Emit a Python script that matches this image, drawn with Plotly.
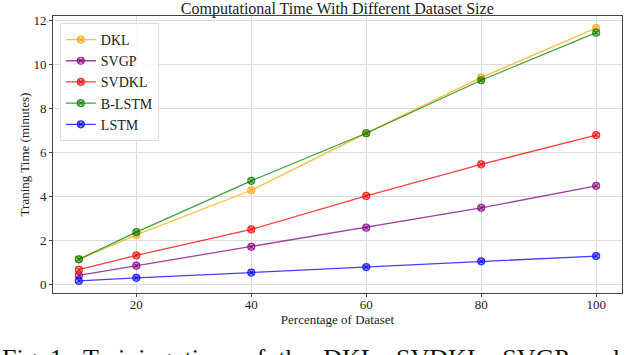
import plotly.graph_objects as go

pct = [10, 20, 40, 60, 80, 100]
dkl = [1.16, 2.27, 4.30, 6.90, 9.42, 11.67]
svgp = [0.43, 0.87, 1.73, 2.60, 3.50, 4.50]
svdkl = [0.69, 1.34, 2.52, 4.04, 5.48, 6.81]
blstm = [1.16, 2.40, 4.73, 6.89, 9.30, 11.46]
lstm = [0.18, 0.32, 0.56, 0.81, 1.07, 1.31]

names = ["DKL", "SVGP", "SVDKL", "B-LSTM", "LSTM"]
series = [dkl, svgp, svdkl, blstm, lstm]
rgb = ["255,165,0", "128,0,128", "255,0,0", "0,128,0", "0,0,255"]

FONT = "Liberation Serif, DejaVu Serif, serif"

fig = go.Figure()
for n, s, c in zip(names, series, rgb):
    fig.add_trace(go.Scatter(
        x=pct, y=s, name=n, mode="lines+markers",
        line=dict(color=f"rgba({c},0.75)", width=1.3),
        marker=dict(symbol="circle-x", size=7, color=f"rgba({c},0.35)",
                    line=dict(color=f"rgba({c},0.8)", width=1.2)),
    ))

fig.update_layout(
    width=640, height=355,
    margin=dict(l=53, r=18, t=16, b=62),
    paper_bgcolor="white", plot_bgcolor="white",
    font=dict(family=FONT, color="#222", size=13),
    title=dict(text="Computational Time With Different Dataset Size",
               x=0.527, xanchor="center", y=0.977, yanchor="middle",
               font=dict(size=16, family=FONT, color="#222")),
    showlegend=True,
    legend=dict(x=0.012, y=0.975, xanchor="left", yanchor="top",
                bgcolor="rgba(255,255,255,0.85)", bordercolor="#dddddd", borderwidth=1,
                font=dict(size=14, family=FONT, color="#222"),
                tracegroupgap=0, itemwidth=30),
    xaxis=dict(range=[5.5, 104.5], tickvals=[20, 40, 60, 80, 100], automargin=False,
               showgrid=True, gridcolor="#dcdcdc", gridwidth=1,
               zeroline=False, showline=True, linecolor="#444", linewidth=1, mirror=True,
               ticks="outside", ticklen=3, tickcolor="#444", ticklabelstandoff=-4,
               tickfont=dict(size=13, family=FONT),
               title=dict(text="Percentage of Dataset", font=dict(size=13, family=FONT), standoff=0)),
    yaxis=dict(range=[-0.37, 12.22], tickvals=[0, 2, 4, 6, 8, 10, 12], automargin=False,
               showgrid=True, gridcolor="#dcdcdc", gridwidth=1,
               zeroline=False, showline=True, linecolor="#444", linewidth=1, mirror=True,
               ticks="outside", ticklen=3, tickcolor="#444",
               tickfont=dict(size=13, family=FONT),
               title=dict(text="Traning Time (minutes)", font=dict(size=13, family=FONT), standoff=0)),
)

fig.add_annotation(
    text="Fig.\u00a01:\u00a0\u00a0Training\u00a0\u00a0time\u00a0\u00a0of\u00a0\u00a0the\u00a0\u00a0DKL,\u00a0\u00a0SVDKL,\u00a0\u00a0SVGP\u00a0\u00a0and",
    xref="paper", yref="paper", x=-0.093, y=-0.178, xanchor="left", yanchor="top",
    showarrow=False,
    font=dict(size=26, family=FONT, color="#111"),
)

fig.write_html("out.html", config={"displayModeBar": False},
               post_script="document.body.style.margin='0';")
